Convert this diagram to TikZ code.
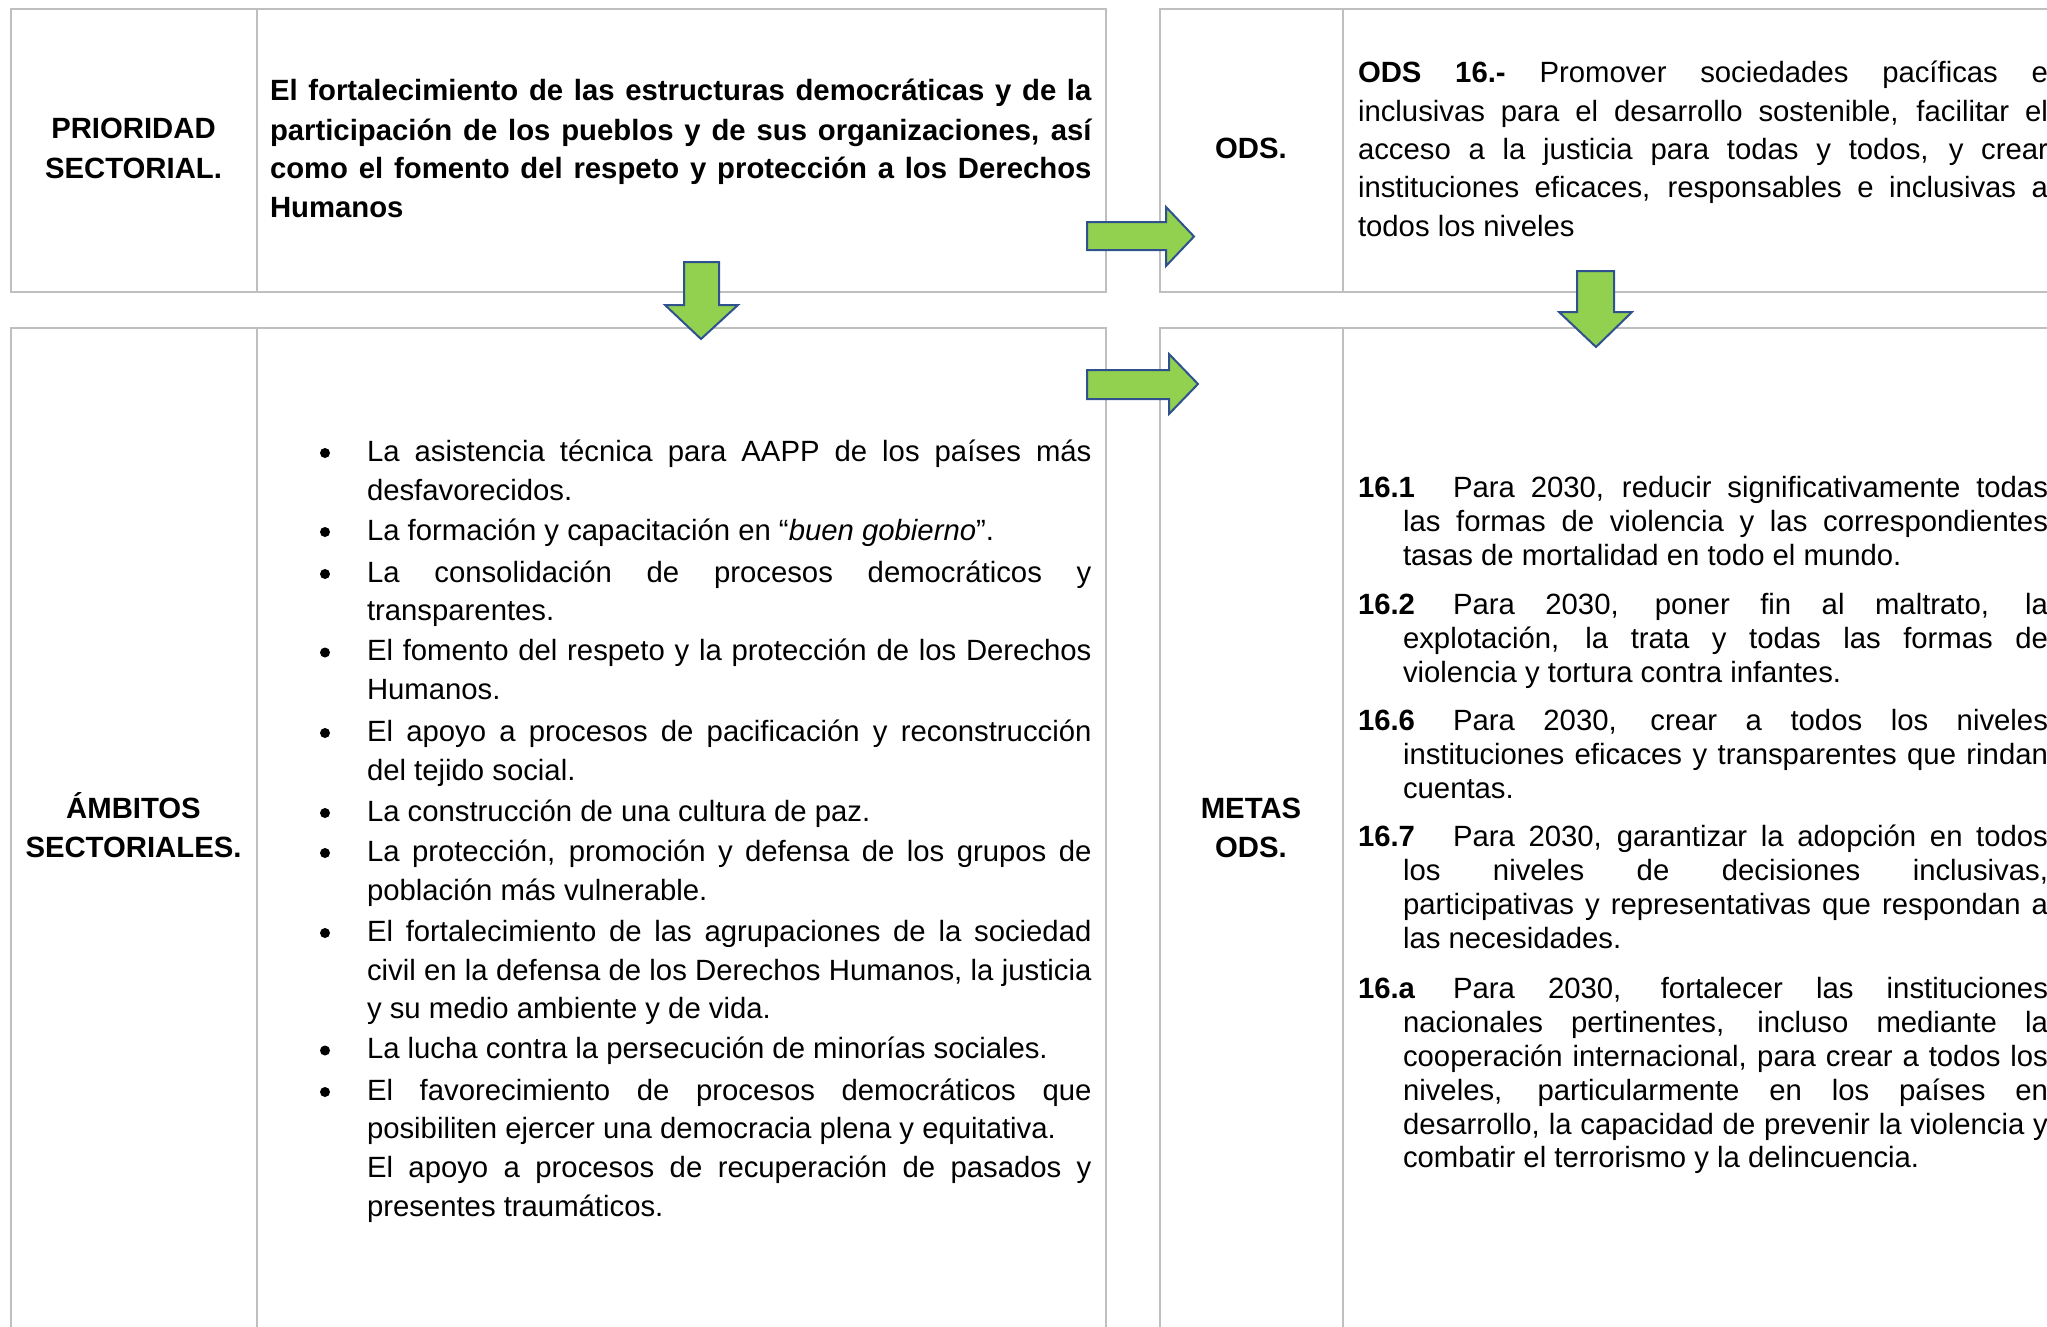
\documentclass[tikz,border=0pt]{standalone}
\usepackage{fontspec}
\setmainfont{Liberation Sans}
\definecolor{tablegray}{RGB}{191,191,191}
\definecolor{arrowfill}{RGB}{146,208,80}
\definecolor{arrowline}{RGB}{47,82,143}
\newcommand\JL[4]{\node[txt] (#1) at (#2) {\makebox[#3][s]{#4}};}
\newcommand\NL[3]{\node[txt] (#1) at (#2) {#3};}
\newcommand\BL[2]{\node[bul] (#1) at (#2) {};}
\begin{document}
\begin{tikzpicture}[x=1pt,y=-1pt,
  every node/.style={font=\fontsize{29.3pt}{35pt}\selectfont},
  txt/.style={anchor=base west, inner sep=0pt, outer sep=0pt},
  lab/.style={anchor=base, inner sep=0pt, outer sep=0pt, font=\fontsize{29.3pt}{35pt}\selectfont\bfseries},
  bul/.style={circle, fill=black, inner sep=0pt, minimum size=10pt},
  tb/.style={draw=tablegray, line width=2pt},
  tbi/.style={draw=tablegray, line width=1.6pt},
  blockarrow/.style={fill=arrowfill, draw=arrowline, line width=2pt, line join=miter}]
\useasboundingbox (0,0) rectangle (2047,1327);
\clip (0,0) rectangle (2047,1327);
% left table
\draw[tb] (10.5,9) rectangle (1106,292);
\draw[tbi] (257,9) -- (257,292);
\draw[tb] (10.5,1340) -- (10.5,328) -- (1106,328) -- (1106,1340);
\draw[tbi] (257,328) -- (257,1340);
% right table
\draw[tb] (2060,9) -- (1160,9) -- (1160,292) -- (2060,292);
\draw[tbi] (1343,9) -- (1343,292);
\draw[tb] (2060,328) -- (1160,328) -- (1160,1340);
\draw[tbi] (1343,328) -- (1343,1340);
% labels
\node[lab] (p1) at (133.5,139) {PRIORIDAD};
\node[lab] (p2) at (133.5,178) {SECTORIAL.};
\node[lab] (a1) at (133.5,818) {ÁMBITOS};
\node[lab] (a2) at (133.5,857) {SECTORIALES.};
\node[lab] (o1) at (1251,158.5) {ODS.};
\node[lab] (m1) at (1251,818) {METAS};
\node[lab] (m2) at (1251,857) {ODS.};
% header text
\JL{h1}{270,101}{821.5pt}{\bfseries El fortalecimiento de las estructuras democráticas y de la}
\JL{h2}{270,140}{821.5pt}{\bfseries participación de los pueblos y de sus organizaciones, así}
\JL{h3}{270,178.5}{821.5pt}{\bfseries como el fomento del respeto y protección a los Derechos}
\NL{h4}{270,217}{\bfseries Humanos}
% ODS text
\JL{s1}{1358,83}{690pt}{\textbf{ODS 16.-} Promover sociedades pacíficas e}
\JL{s2}{1358,121.3}{690pt}{inclusivas para el desarrollo sostenible, facilitar el}
\JL{s3}{1358,159.6}{690pt}{acceso a la justicia para todas y todos, y crear}
\JL{s4}{1358,197.9}{690pt}{instituciones eficaces, responsables e inclusivas a}
\NL{s5}{1358,236.2}{todos los niveles}
% bullets list
\BL{b1}{325,453}
\JL{l1}{367,461}{724.5pt}{La asistencia técnica para AAPP de los países más}
\NL{l2}{367,500}{desfavorecidos.}
\BL{b2}{325,532}
\NL{l3}{367,540}{La formación y capacitación en “\textit{buen gobierno}”.}
\BL{b3}{325,574}
\JL{l4}{367,582}{724.5pt}{La consolidación de procesos democráticos y}
\NL{l5}{367,620.5}{transparentes.}
\BL{b4}{325,652.5}
\JL{l6}{367,660.5}{724.5pt}{El fomento del respeto y la protección de los Derechos}
\NL{l7}{367,699.5}{Humanos.}
\BL{b5}{325,733}
\JL{l8}{367,741}{724.5pt}{El apoyo a procesos de pacificación y reconstrucción}
\NL{l9}{367,780}{del tejido social.}
\BL{b6}{325,813}
\NL{l10}{367,821}{La construcción de una cultura de paz.}
\BL{b7}{325,853}
\JL{l11}{367,861}{724.5pt}{La protección, promoción y defensa de los grupos de}
\NL{l12}{367,900.5}{población más vulnerable.}
\BL{b8}{325,933}
\JL{l13}{367,941}{724.5pt}{El fortalecimiento de las agrupaciones de la sociedad}
\JL{l14}{367,980}{724.5pt}{civil en la defensa de los Derechos Humanos, la justicia}
\NL{l15}{367,1018.5}{y su medio ambiente y de vida.}
\BL{b9}{325,1050.5}
\NL{l16}{367,1058.5}{La lucha contra la persecución de minorías sociales.}
\BL{b10}{325,1092}
\JL{l17}{367,1100}{724.5pt}{El favorecimiento de procesos democráticos que}
\NL{l18}{367,1138.5}{posibiliten ejercer una democracia plena y equitativa.}
\JL{l19}{367,1177.5}{724.5pt}{El apoyo a procesos de recuperación de pasados y}
\NL{l20}{367,1216.5}{presentes traumáticos.}
% metas
\NL{n1}{1358,497}{\bfseries 16.1}
\JL{t1}{1453,497}{595pt}{Para 2030, reducir significativamente todas}
\JL{t2}{1403,531}{645pt}{las formas de violencia y las correspondientes}
\NL{t3}{1403,565}{tasas de mortalidad en todo el mundo.}
\NL{n2}{1358,614.5}{\bfseries 16.2}
\JL{t4}{1453,614.5}{595pt}{Para 2030, poner fin al maltrato, la}
\JL{t5}{1403,648.4}{645pt}{explotación, la trata y todas las formas de}
\NL{t6}{1403,682.3}{violencia y tortura contra infantes.}
\NL{n3}{1358,730.6}{\bfseries 16.6}
\JL{t7}{1453,730.6}{595pt}{Para 2030, crear a todos los niveles}
\JL{t8}{1403,764.6}{645pt}{instituciones eficaces y transparentes que rindan}
\NL{t9}{1403,798.5}{cuentas.}
\NL{n4}{1358,846.8}{\bfseries 16.7}
\JL{t10}{1453,846.8}{595pt}{Para 2030, garantizar la adopción en todos}
\JL{t11}{1403,880.8}{645pt}{los niveles de decisiones inclusivas,}
\JL{t12}{1403,914.7}{645pt}{participativas y representativas que respondan a}
\NL{t13}{1403,948.7}{las necesidades.}
\NL{n5}{1358,998.3}{\bfseries 16.a}
\JL{t14}{1453,998.3}{595pt}{Para 2030, fortalecer las instituciones}
\JL{t15}{1403,1032.2}{645pt}{nacionales pertinentes, incluso mediante la}
\JL{t16}{1403,1066.2}{645pt}{cooperación internacional, para crear a todos los}
\JL{t17}{1403,1100}{645pt}{niveles, particularmente en los países en}
\JL{t18}{1403,1134}{645pt}{desarrollo, la capacidad de prevenir la violencia y}
\NL{t19}{1403,1167}{combatir el terrorismo y la delincuencia.}
% block arrows
\draw[blockarrow] (1087,222) -- (1166,222) -- (1166,207) -- (1194,236.5) -- (1166,266) -- (1166,250) -- (1087,250) -- cycle;
\draw[blockarrow] (1087,370) -- (1169,370) -- (1169,354) -- (1198,384) -- (1169,414) -- (1169,399) -- (1087,399) -- cycle;
\draw[blockarrow] (684,262) -- (719,262) -- (719,305) -- (738,305) -- (701,339) -- (665,305) -- (684,305) -- cycle;
\draw[blockarrow] (1577,271) -- (1614,271) -- (1614,312) -- (1632,312) -- (1596,347) -- (1559,312) -- (1577,312) -- cycle;
\end{tikzpicture}
\end{document}
